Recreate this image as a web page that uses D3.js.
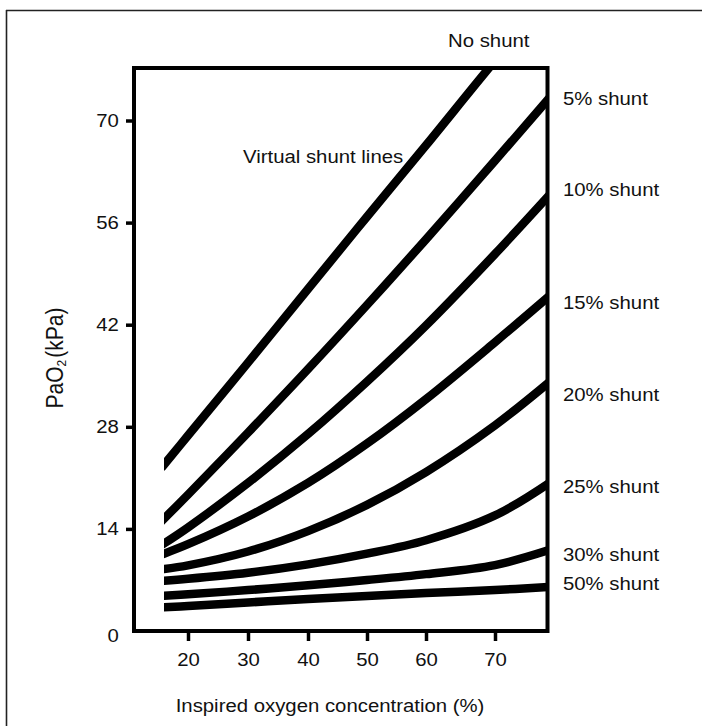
<!DOCTYPE html>
<html>
<head>
<meta charset="utf-8">
<script src="https://cdn.jsdelivr.net/npm/d3@7"></script>
<style>
  html, body { margin: 0; padding: 0; background: #fff; }
  svg { display: block; font-family: "Liberation Sans", Arial, Helvetica, sans-serif; }
</style>
</head>
<body>
<svg id="chart" width="702" height="726"></svg>
<script>
// ---------------- data ----------------
const fio2 = [16, 20, 30, 40, 50, 60, 70, 77.7];           // inspired O2 (%)
const shuntNames = ["No shunt", "5% shunt", "10% shunt", "15% shunt", "20% shunt", "25% shunt", "30% shunt", "50% shunt"];
const pao2NoShunt = [22.8, 26.8, 36.8, 46.9, 56.8, 66.6, 78.2, 86.7];
const pao2Shunt5  = [15.4, 18.7, 27.2, 35.9, 44.7, 53.7, 64.5, 72.9];
const pao2Shunt10 = [12.0, 14.2, 20.3, 27.0, 34.2, 41.9, 51.7, 59.6];
const pao2Shunt15 = [10.6, 11.9, 15.7, 20.3, 25.7, 31.8, 39.6, 45.8];
const pao2Shunt20 = [8.5, 9.0, 10.9, 13.7, 17.3, 21.8, 28.2, 34.0];
const pao2Shunt25 = [6.9, 7.16, 7.98, 9.13, 10.6, 12.45, 15.85, 20.2];
const pao2Shunt30 = [4.84, 5.03, 5.61, 6.27, 6.99, 7.8, 9.04, 11.06];
const pao2Shunt50 = [3.25, 3.43, 3.91, 4.39, 4.8, 5.21, 5.62, 6.03];
const xTicks = [20, 30, 40, 50, 60, 70];
const yTicks = [0, 14, 28, 42, 56, 70];
const xTitle = "Inspired oxygen concentration (%)";
const annotation = "Virtual shunt lines";

const seriesValues = [pao2NoShunt, pao2Shunt5, pao2Shunt10, pao2Shunt15, pao2Shunt20, pao2Shunt25, pao2Shunt30, pao2Shunt50];

// ---------------- layout ----------------
const box = { left: 134, right: 547.5, top: 68, bottom: 631 };
const labelX = 563;
const labelBaselines = [47, 105, 195.7, 309, 400.7, 492.7, 560.7, 590];
const labelXs = [448, labelX, labelX, labelX, labelX, labelX, labelX, labelX];
const sx = 1.1; // horizontal text stretch of the original
const fontSize = 18.5;
const ink = "#111";

const svg = d3.select("#chart");

// scales (the printed axis has unevenly spaced ticks -> polylinear scale)
const x = d3.scaleLinear().domain(xTicks).range([188, 248, 308, 367, 426, 495]);
const y = d3.scaleLinear().domain([0, 70]).range([box.bottom, 120.5]);

// outer frame (top and left edges visible)
svg.append("line").attr("x1", 6).attr("x2", 702).attr("y1", 10.5).attr("y2", 10.5)
  .attr("stroke", "#222").attr("stroke-width", 1.6);
svg.append("line").attr("x1", 6.5).attr("x2", 6.5).attr("y1", 10).attr("y2", 726)
  .attr("stroke", "#222").attr("stroke-width", 1.6);

// clip for curves
svg.append("defs").append("clipPath").attr("id", "plotclip")
  .append("rect")
  .attr("x", x(fio2[0])).attr("y", box.top)
  .attr("width", box.right - x(fio2[0])).attr("height", box.bottom - box.top);

const line = d3.line()
  .x((d, i) => x(fio2[i]))
  .y(d => y(d))
  .curve(d3.curveCatmullRom.alpha(0.5));

svg.append("g").attr("clip-path", "url(#plotclip)")
  .selectAll("path").data(seriesValues).join("path")
  .attr("d", d => line(d))
  .attr("fill", "none")
  .attr("stroke", "#000")
  .attr("stroke-width", 8.5)
  .attr("stroke-linecap", "square")
  .attr("stroke-linejoin", "round");

// plot box
svg.append("rect")
  .attr("x", box.left).attr("y", box.top)
  .attr("width", box.right - box.left).attr("height", box.bottom - box.top)
  .attr("fill", "none").attr("stroke", "#000").attr("stroke-width", 4);

// left axis
const yAxis = svg.append("g")
  .attr("transform", `translate(${box.left - 2},0)`)
  .call(d3.axisLeft(y).tickValues(yTicks).tickSize(6).tickPadding(6).tickFormat(d3.format("d")));
yAxis.select(".domain").remove();
yAxis.selectAll(".tick line").attr("stroke", "#000").attr("stroke-width", 3.5)
  .attr("display", d => d === 0 ? "none" : null);
yAxis.selectAll(".tick text")
  .attr("font-size", fontSize).attr("fill", ink)
  .attr("font-family", "Liberation Sans, Arial, sans-serif")
  .attr("transform", d => d === 0 ? `translate(0,5) scale(${sx},1)` : `scale(${sx},1)`);

// bottom axis
const xAxis = svg.append("g")
  .attr("transform", `translate(0,${box.bottom + 2})`)
  .call(d3.axisBottom(x).tickValues(xTicks).tickSize(8).tickPadding(12).tickFormat(d3.format("d")));
xAxis.select(".domain").remove();
xAxis.selectAll(".tick line").attr("stroke", "#000").attr("stroke-width", 3.5);
xAxis.selectAll(".tick text")
  .attr("font-size", fontSize).attr("fill", ink)
  .attr("font-family", "Liberation Sans, Arial, sans-serif")
  .attr("transform", `scale(${sx},1)`);

// x title
svg.append("text")
  .attr("transform", `translate(330,711.5) scale(${sx},1)`)
  .attr("text-anchor", "middle")
  .attr("font-size", fontSize).attr("fill", ink)
  .text(xTitle);

// y title  PaO2 (kPa)
const yt = svg.append("text")
  .attr("transform", `translate(63,358) rotate(-90) scale(1,${sx})`)
  .attr("text-anchor", "middle")
  .attr("font-size", 21).attr("fill", ink);
yt.append("tspan").text("PaO");
yt.append("tspan").attr("font-size", 12).attr("dy", 3).text("2");
yt.append("tspan").attr("dy", -3).attr("dx", 2).text("(kPa)");

// shunt labels
svg.append("g").selectAll("text").data(shuntNames).join("text")
  .attr("transform", (d, i) => `translate(${labelXs[i]},${labelBaselines[i]}) scale(${sx},1)`)
  .attr("font-size", fontSize).attr("fill", ink)
  .text(d => d);

// annotation
svg.append("text")
  .attr("transform", `translate(243,163) scale(${sx},1)`)
  .attr("font-size", fontSize).attr("fill", ink)
  .text(annotation);
</script>
</body>
</html>
